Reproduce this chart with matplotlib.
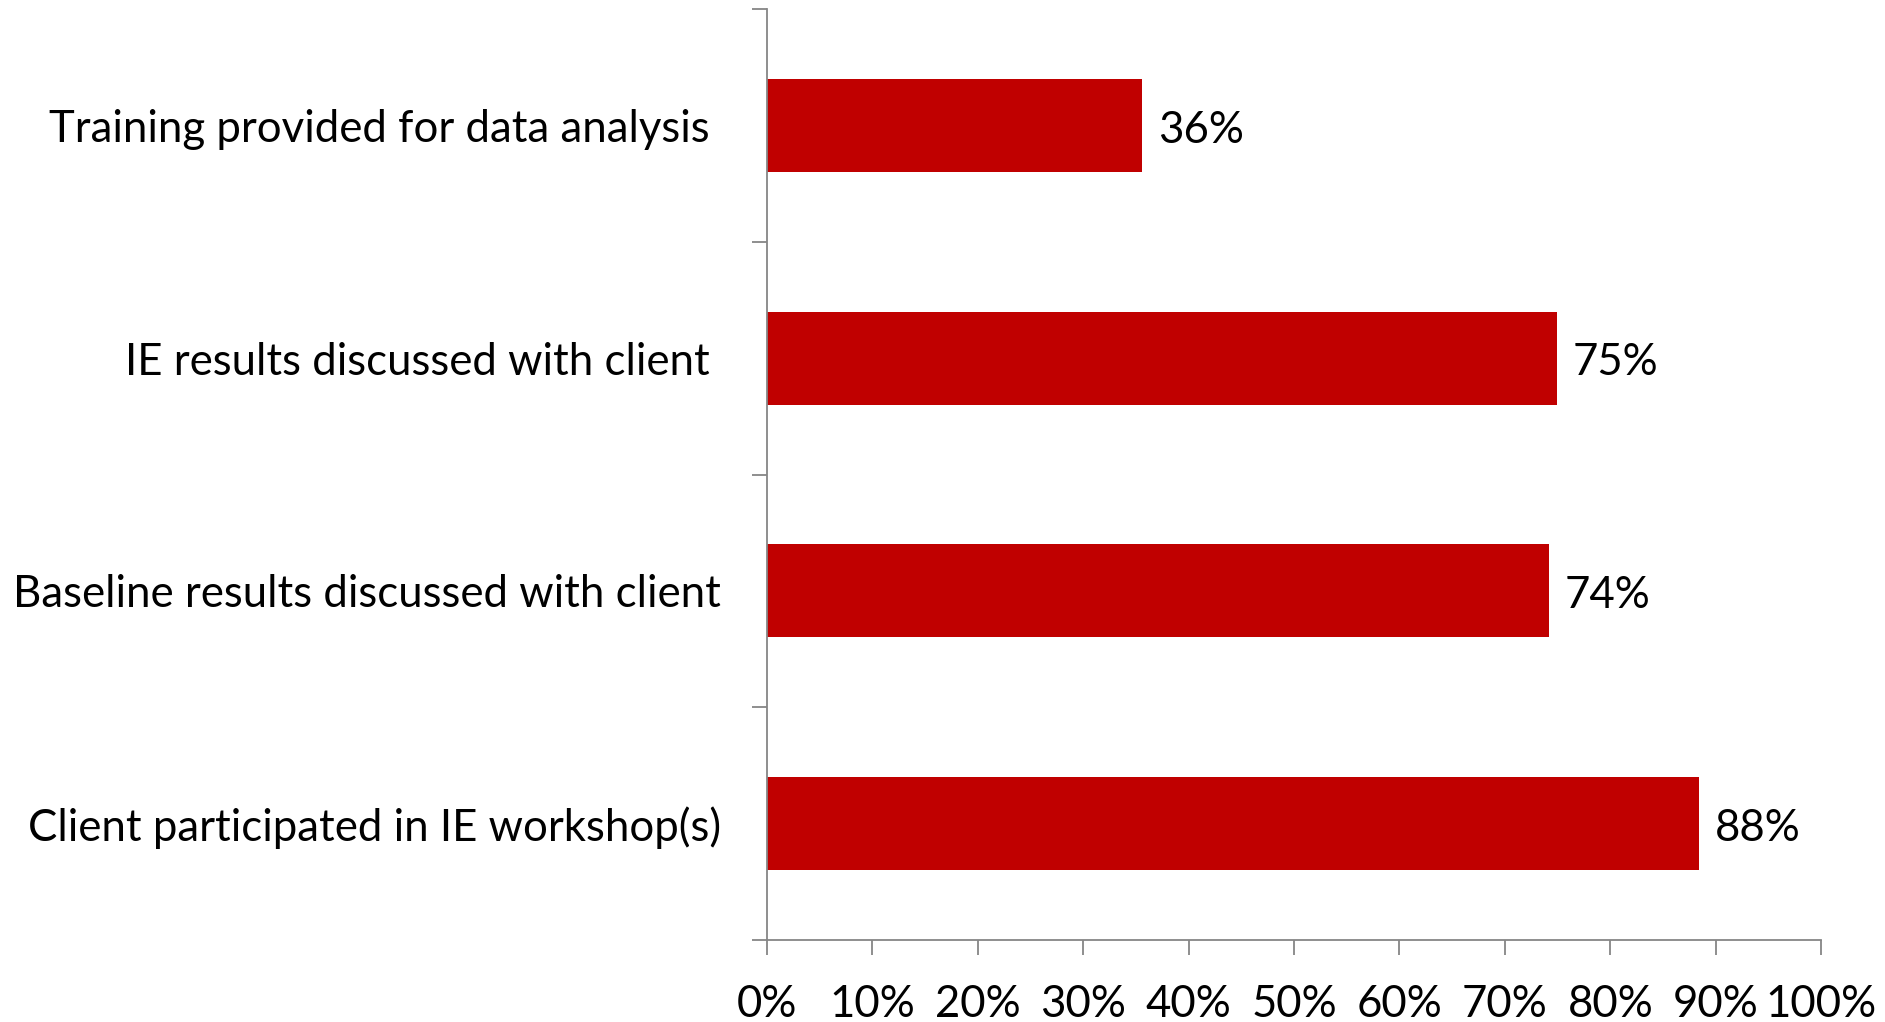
import numpy as np
import matplotlib
matplotlib.use("Agg")
import matplotlib.pyplot as plt

# --- DONNEES ---
categories = ["Client participated in IE workshop(s)",
              "Baseline results discussed with client",
              "IE results discussed with client ",
              "Training provided for data analysis "]
values = [88.4, 74.2, 74.9, 35.6]
labels = ["88%", "74%", "75%", "36%"]
xticks = [0, 10, 20, 30, 40, 50, 60, 70, 80, 90, 100]

plt.rcParams['font.family'] = ['Lato', 'DejaVu Sans']
fs = 31.5

fig = plt.figure(figsize=(18.85, 10.22), dpi=100)
ax = fig.add_axes([0.4069, 0.0802, 0.5592, 0.911])

pos = np.arange(len(categories))
ax.barh(pos, values, height=0.4, color="#C00000")

# étiquettes de valeur à droite des barres
for p, v, lab in zip(pos, values, labels):
    ax.text(v + 1.5, p - 0.02, lab, va="center", ha="left", fontsize=fs, color="black")

ax.set_xlim(0, 100)
ax.set_ylim(-0.5, len(categories) - 0.5)

# ticks x
ax.set_xticks(xticks)
ax.set_xticklabels([f"{t}%" for t in xticks], fontsize=fs)
ax.tick_params(axis="x", length=11, width=1.3, color="#868686", pad=21)

# ticks y : marques entre catégories, étiquettes au centre
ax.set_yticks(np.arange(-0.5, len(categories), 1.0))
ax.set_yticklabels([])
ax.tick_params(axis="y", which="major", length=11, width=1.3, color="#868686")
ax.set_yticks(pos, minor=True)
ax.set_yticklabels(categories, minor=True, fontsize=fs)
ax.tick_params(axis="y", which="minor", length=0, pad=33)

for s in ["top", "right"]:
    ax.spines[s].set_visible(False)
for s in ["left", "bottom"]:
    ax.spines[s].set_color("#868686")
    ax.spines[s].set_linewidth(1.3)

fig.savefig("out.png", dpi=100)
